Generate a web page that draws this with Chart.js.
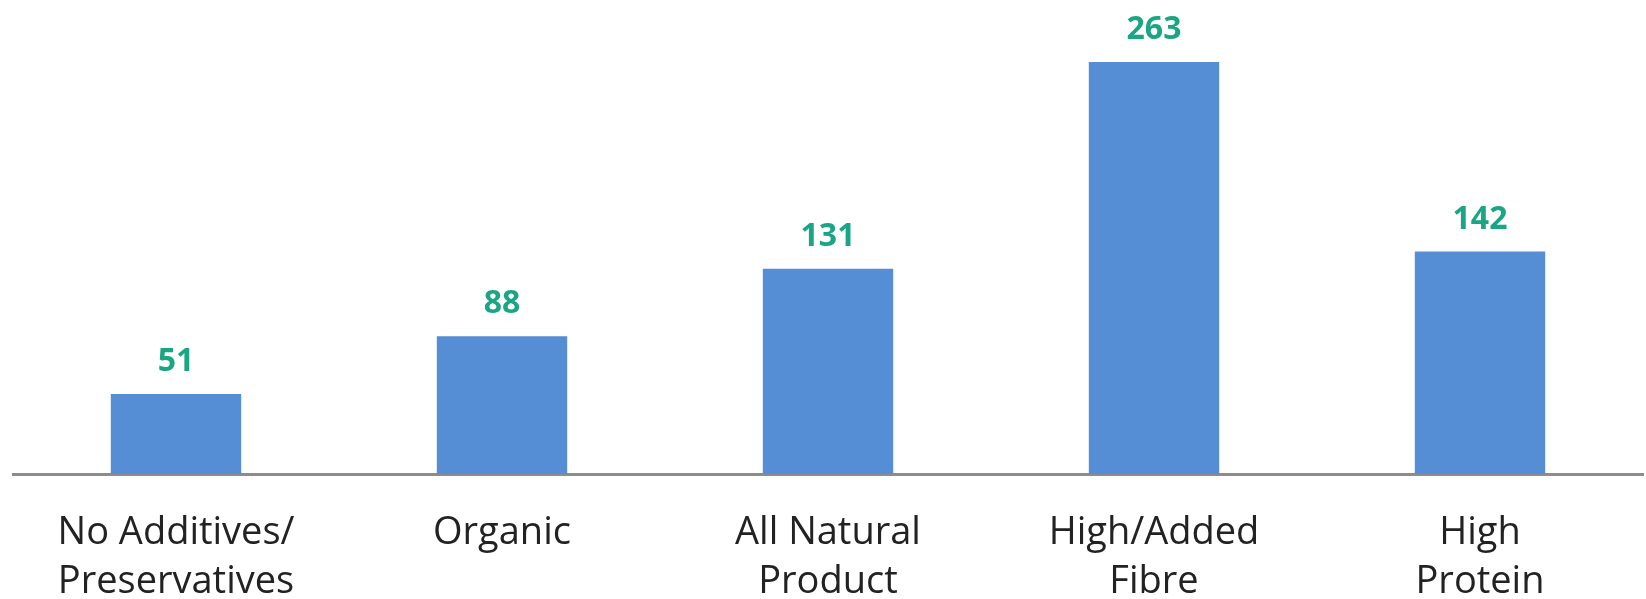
<!DOCTYPE html>
<html>
<head>
<meta charset="utf-8">
<script src="https://cdn.jsdelivr.net/npm/chart.js@4/dist/chart.umd.min.js"></script>
<style>
  html, body { margin: 0; padding: 0; background: #ffffff; }
  #wrap { width: 1646px; height: 599px; position: relative; }
</style>
</head>
<body>
<div id="wrap"><canvas id="c"></canvas></div>
<script>
const categories = [
  ["No Additives/", "Preservatives"],
  ["Organic"],
  ["All Natural", "Product"],
  ["High/Added", "Fibre"],
  ["High", "Protein"]
];
const values = [51, 88, 131, 263, 142];

const valueLabels = {
  id: 'valueLabels',
  afterDatasetsDraw(chart) {
    const ctx = chart.ctx;
    const meta = chart.getDatasetMeta(0);
    ctx.save();
    ctx.font = "bold 32px 'Open Sans'";
    ctx.fillStyle = '#1AA684';
    ctx.textAlign = 'center';
    ctx.textBaseline = 'alphabetic';
    meta.data.forEach((bar, i) => {
      ctx.fillText(String(values[i]), bar.x, bar.y - 23);
    });
    ctx.restore();
  }
};

Chart.defaults.font.family = "'Open Sans'";

new Chart(document.getElementById('c'), {
  type: 'bar',
  data: {
    labels: categories,
    datasets: [{
      data: values,
      backgroundColor: '#558ED5',
      borderWidth: 0,
      barPercentage: 0.4,
      categoryPercentage: 1.0
    }]
  },
  options: {
    responsive: true,
    maintainAspectRatio: false,
    animation: false,
    devicePixelRatio: 1,
    layout: { padding: { left: 13, right: 3, top: 4, bottom: 0 } },
    plugins: { legend: { display: false }, tooltip: { enabled: false } },
    scales: {
      x: {
        grid: { display: false, drawTicks: false },
        border: { display: true, color: '#8C8C8C', width: 3 },
        ticks: {
          color: '#222222',
          font: { size: 38, lineHeight: 1.28 },
          padding: 35,
          maxRotation: 0,
          autoSkip: false
        },
        afterFit(scale) { scale.height = 125; }
      },
      y: {
        display: false,
        min: 0,
        max: 300
      }
    }
  },
  plugins: [valueLabels]
});
</script>
</body>
</html>
